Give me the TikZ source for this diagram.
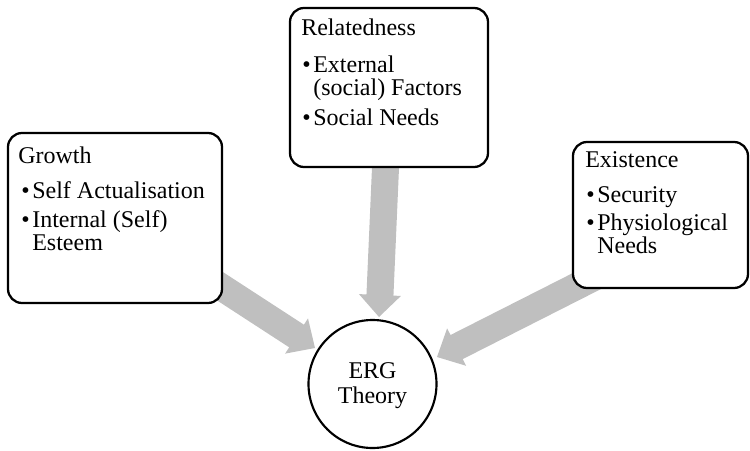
\documentclass[tikz,border=0pt]{standalone}
\usepackage{fontspec}
\setmainfont{Liberation Serif}
\usetikzlibrary{calc,backgrounds}

\definecolor{arrowgray}{RGB}{191,191,191}

% Block arrow from #1 to the tip #2: shaft 27px wide, head 42px wide and 22px long
\newcommand\blockarrow[2]{%
  \path ($(#2)!16.5pt!(#1)$) coordinate (hb);
  \fill[arrowgray]
    ($(#1)!10.125pt!90:(#2)$) --
    ($(hb)!10.125pt!-90:(#1)$) --
    ($(hb)!15.75pt!-90:(#1)$) --
    (#2) --
    ($(hb)!15.75pt!90:(#1)$) --
    ($(hb)!10.125pt!90:(#1)$) --
    ($(#1)!10.125pt!-90:(#2)$) -- cycle;
}
\newcommand\bul{\makebox[8.25pt][l]{•}}

\tikzset{
  box/.style={draw=black, line width=1.7pt, fill=white, rounded corners=10.5pt,
              inner sep=0pt},
  hub/.style={draw=black, line width=1.6pt, fill=white, circle, inner sep=0pt,
              minimum size=96pt},
  txt/.style={anchor=base west, inner sep=0pt, font=\fontsize{18pt}{22pt}\selectfont},
  ctxt/.style={anchor=base, inner sep=0pt, font=\fontsize{18pt}{22pt}\selectfont},
}

\begin{document}
\begin{tikzpicture}[x=0.75pt, y=-0.75pt]
  \useasboundingbox (0,0) rectangle (750,450);

  % the three category boxes
  \node[box, minimum width=160.5pt, minimum height=127.5pt] (growth) at (115,218) {};
  \node[box, minimum width=148.5pt, minimum height=119.25pt] (related) at (389,87.5) {};
  \node[box, minimum width=131.25pt, minimum height=109.5pt] (exist) at (660.5,215) {};

  % central circle
  \node[hub] (erg) at (372.5,384) {};

  % arrow ends
  \coordinate (existout) at (660,244);
  \coordinate (tipG) at (315,348);
  \coordinate (tipR) at (379,317);
  \coordinate (tipE) at (437,357);

  \begin{scope}[on background layer]
    \blockarrow{growth}{tipG}
    \blockarrow{related}{tipR}
    \blockarrow{existout}{tipE}
  \end{scope}

  % Growth
  \node[txt] (g0) at (18,163) {Growth};
  \node[txt] (g1) at (21,198) {\bul Self Actualisation};
  \node[txt] (g2) at (21,227) {\bul Internal (Self)};
  \node[txt] (g3) at (32,250) {Esteem};

  % Relatedness
  \node[txt] (r0) at (301,35) {Relatedness};
  \node[txt] (r1) at (302,72) {\bul External};
  \node[txt] (r2) at (313,95) {(social) Factors};
  \node[txt] (r3) at (302,125) {\bul Social Needs};

  % Existence
  \node[txt] (e0) at (585,167) {Existence};
  \node[txt] (e1) at (586,202) {\bul Security};
  \node[txt] (e2) at (586,230) {\bul Physiological};
  \node[txt] (e3) at (597,253) {Needs};

  % centre label
  \node[ctxt] (c0) at (372.5,378) {ERG};
  \node[ctxt] (c1) at (372.5,403) {Theory};
\end{tikzpicture}
\end{document}
